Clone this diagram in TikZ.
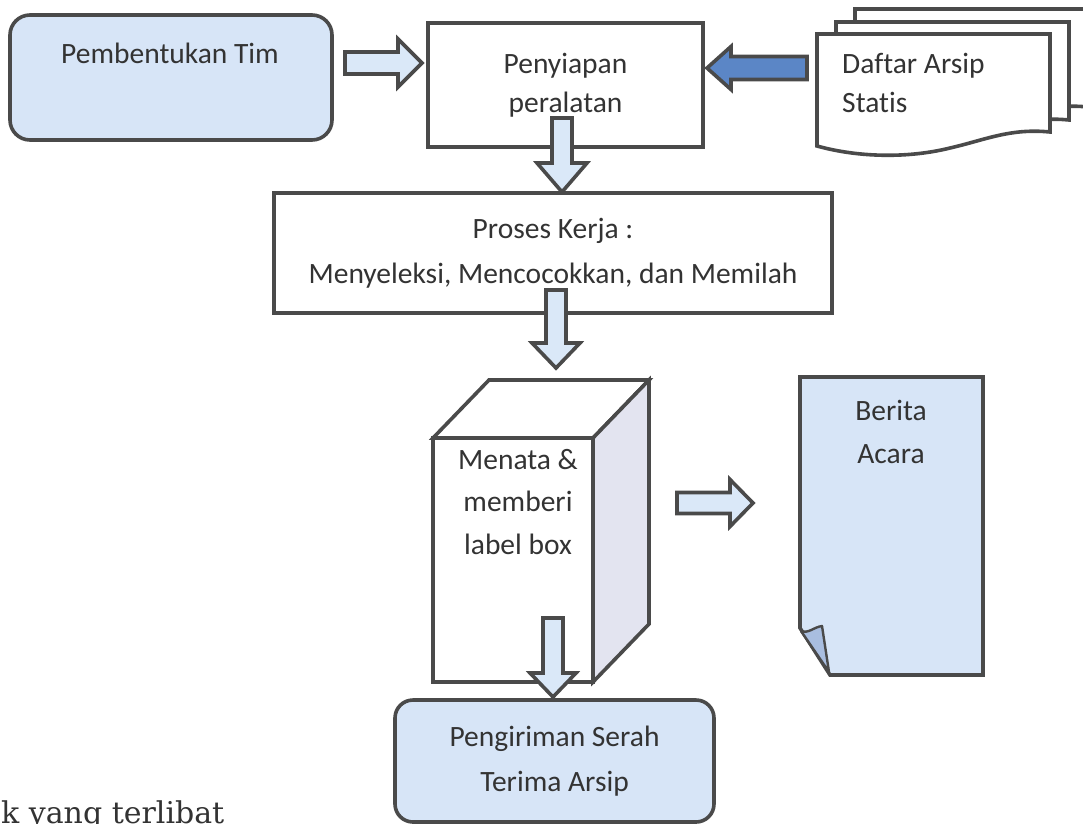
\documentclass[tikz,border=0pt]{standalone}
\usepackage{fontspec}
\setmainfont{Carlito}[Ligatures=NoCommon]
\newfontfamily\pageserif{DejaVu Serif}
\usetikzlibrary{calc}

\definecolor{edgegray}{HTML}{4A4A4A}
\definecolor{inkgray}{HTML}{333333}
\definecolor{paleblue}{HTML}{D7E5F7}
\definecolor{arrowblue}{HTML}{DAE8F8}
\definecolor{deepblue}{HTML}{5B86C6}
\definecolor{sideface}{HTML}{E3E4F0}
\definecolor{curlblue}{HTML}{A9BEE0}

% Block arrow along a horizontal line: style, tail, tip, shaft half width, head half width, head length
\newcommand\flowarrowH[6]{%
  \draw[#1] let \p1=(#2), \p2=(#3), \n1={sign(\x2-\x1)} in
    (\x1,\y1+#4pt) -- (\x2-\n1*#6pt,\y1+#4pt) -- (\x2-\n1*#6pt,\y1+#5pt) -- (\x2,\y1)
    -- (\x2-\n1*#6pt,\y1-#5pt) -- (\x2-\n1*#6pt,\y1-#4pt) -- (\x1,\y1-#4pt) -- cycle;}
% Block arrow along a vertical line
\newcommand\flowarrowV[6]{%
  \draw[#1] let \p1=(#2), \p2=(#3), \n1={sign(\y2-\y1)} in
    (\x1+#4pt,\y1) -- (\x1+#4pt,\y2-\n1*#6pt) -- (\x1+#5pt,\y2-\n1*#6pt) -- (\x1,\y2)
    -- (\x1-#5pt,\y2-\n1*#6pt) -- (\x1-#4pt,\y2-\n1*#6pt) -- (\x1-#4pt,\y1) -- cycle;}

\begin{document}
\begin{tikzpicture}[x=1pt,y=-1pt,
  edgeline/.style={draw=edgegray,line width=3.6pt,line join=miter},
  label text/.style={text=inkgray,font=\fontsize{29.5}{44}\selectfont,align=center,inner sep=0pt},
  roundbox/.style={edgeline,fill=paleblue,rounded corners=20pt,inner sep=0pt,outer sep=0pt},
  plainbox/.style={edgeline,fill=white,inner sep=0pt,outer sep=0pt},
  hollow/.style={edgeline,fill=arrowblue},
  filledarrow/.style={edgeline,fill=deepblue},
  docpage/.pic={
    \draw[edgeline,fill=white] (0,0) -- (233,0) -- (233,98)
      .. controls (193,94) and (168,106) .. (133,114)
      .. controls (93,124) and (43,124) .. (0,112) -- cycle;}]

\useasboundingbox (0,0) rectangle (1083,823);
\fill[white] (0,0) rectangle (1083,823);

% team formation
\node[roundbox,minimum width=322pt,minimum height=125pt] (team) at (171,77.5) {};
\node[label text] (teamtext) at (170,53) {Pembentukan Tim};

% equipment preparation
\node[plainbox,label text,font=\fontsize{29.5}{39}\selectfont,
      minimum width=275pt,minimum height=124pt] (prep) at (565.5,85) {Penyiapan\\peralatan};

% stacked list of static archives
\pic (sheetc) at (855,9) {docpage};
\pic (sheetb) at (836,22) {docpage};
\pic (sheeta) at (817,34) {docpage};
\node[label text,anchor=west,align=left,font=\fontsize{29.5}{39}\selectfont] (listtext) at (842,82.5) {Daftar Arsip\\Statis};

% work process
\node[plainbox,label text,font=\fontsize{29.5}{45}\selectfont,
      minimum width=558pt,minimum height=120pt] (work) at (553,253)
      {Proses Kerja :\\Menyeleksi, Mencocokkan, dan Memilah};

% archive box drawn in perspective
\node[plainbox,minimum width=160pt,minimum height=244pt] (crate) at (513,560) {};
\draw[edgeline,fill=white] (crate.north west) -- ++(56,-58) -- ++(160,0) -- (crate.north east) -- cycle;
\draw[edgeline,fill=sideface] (crate.north east) -- ++(56,-58) -- ++(0,244) -- (crate.south east) -- cycle;
\node[label text,font=\fontsize{29.5}{42.5}\selectfont] (cratetext) at (518,502) {Menata \&\\memberi\\label box};

% minutes of handover (sheet with curled corner)
\draw[edgeline,fill=paleblue] (800,377) -- (983,377) -- (983,675) -- (830,675) -- (800,628) -- cycle;
\draw[edgeline,line width=2.4pt,line join=round,fill=curlblue]
  (801,631) .. controls (808,634) and (814,627) .. (822,626) -- (829,672) -- cycle;
\node[label text,font=\fontsize{29.5}{43}\selectfont] (minutes) at (891,431.5) {Berita\\Acara};

% handover delivery
\node[roundbox,rounded corners=18pt,label text,font=\fontsize{29.5}{45}\selectfont,
      minimum width=319pt,minimum height=122pt] (handover) at (554.5,761)
      {Pengiriman Serah\\Terima Arsip};

% connectors
\coordinate (a1s) at (345,63);  \coordinate (a1e) at (422,63);
\coordinate (a2s) at (807,68);  \coordinate (a2e) at (707,68);
\coordinate (a3s) at (562,118); \coordinate (a3e) at (562,192);
\coordinate (a4s) at (556,290); \coordinate (a4e) at (556,368);
\coordinate (a5s) at (677,503); \coordinate (a5e) at (753,503);
\coordinate (a6s) at (553,618); \coordinate (a6e) at (553,697);
\flowarrowH{hollow}{a1s}{a1e}{11}{24}{24}
\flowarrowH{filledarrow}{a2s}{a2e}{11.5}{21.5}{24}
\flowarrowV{hollow}{a3s}{a3e}{10}{25}{29}
\flowarrowV{hollow}{a4s}{a4e}{10}{24}{25}
\flowarrowH{hollow}{a5s}{a5e}{10.5}{23.5}{23}
\flowarrowV{hollow}{a6s}{a6e}{10}{23}{24}

% running text of the page below the chart, cut by the lower edge
\node[anchor=base west,inner sep=0pt,text=black!80,font=\pageserif\fontsize{30}{33}\selectfont] (snippet) at (1,823) {k yang terlibat};
\end{tikzpicture}
\end{document}
